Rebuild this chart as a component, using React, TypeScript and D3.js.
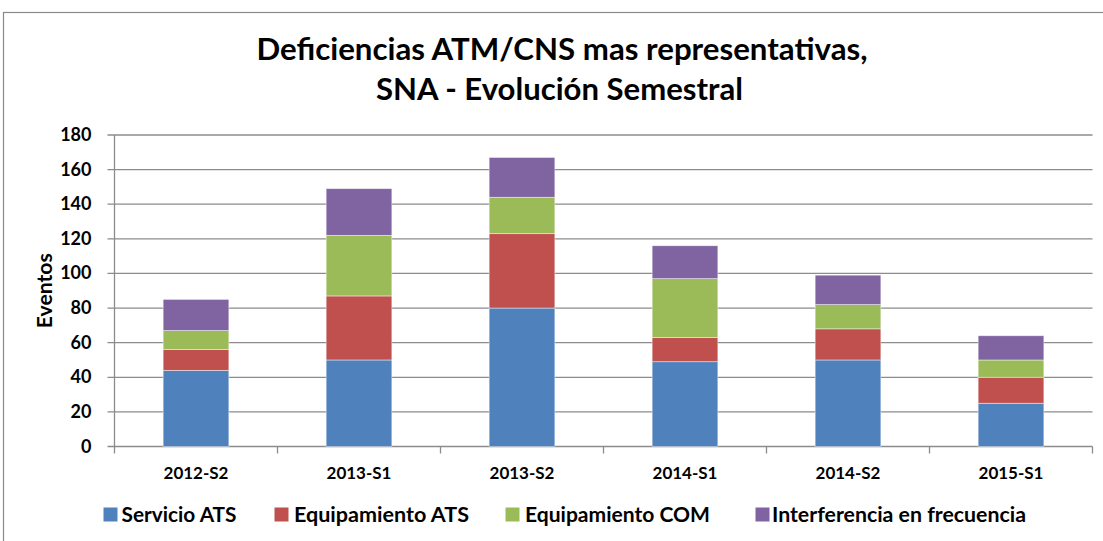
import React from "react";
import * as d3 from "d3";

const categories = ["2012-S2", "2013-S1", "2013-S2", "2014-S1", "2014-S2", "2015-S1"];
const servicioATS = [44, 50, 80, 49, 50, 25];
const equipamientoATS = [12, 37, 43, 14, 18, 15];
const equipamientoCOM = [11, 35, 21, 34, 14, 10];
const interferencia = [18, 27, 23, 19, 17, 14];
const seriesNames = ["Servicio ATS", "Equipamiento ATS", "Equipamiento COM", "Interferencia en frecuencia"];
const seriesColors = ["#4F81BD", "#C0504D", "#9BBB59", "#8064A2"];
const yTicks = [0, 20, 40, 60, 80, 100, 120, 140, 160, 180];
const titleLines = ["Deficiencias ATM/CNS mas representativas,", "SNA - Evolución Semestral"];
const yTitle = "Eventos";

const W = 1103;
const H = 541;
const plot = { left: 114.5, right: 1092.5, top: 135, bottom: 446.5 };
const FONT = "Lato, 'Open Sans', 'DejaVu Sans', sans-serif";
const GRID = "#8c8c8c";

// layout for text blocks (x start, baseline, width)
const titleLayout = [
  { x: 256.5, y: 59.5, w: 611 },
  { x: 376, y: 99.5, w: 367 },
];
const legendLayout = [
  { sx: 103.5, tx: 121.5, tw: 115 },
  { sx: 274.5, tx: 294, tw: 175 },
  { sx: 505.5, tx: 525, tw: 185 },
  { sx: 755.5, tx: 772, tw: 254 },
];

export default function App() {
  const rows = categories.map((c, i) => ({
    cat: c,
    s0: servicioATS[i],
    s1: equipamientoATS[i],
    s2: equipamientoCOM[i],
    s3: interferencia[i],
  }));
  const keys = ["s0", "s1", "s2", "s3"];
  const stacked = d3.stack<any>().keys(keys)(rows);

  const x = d3.scaleBand<string>().domain(categories).range([plot.left, plot.right]).padding(0);
  const y = d3.scaleLinear().domain([0, 180]).range([plot.bottom, plot.top]);
  const barW = x.bandwidth() * 0.403;

  const boundaries = d3.range(categories.length + 1).map((i) => plot.left + i * x.step());

  return (
    <svg
      width={W}
      height={H}
      style={{ position: "absolute", left: 0, top: 0, background: "#fff" }}
      fontFamily={FONT}
    >
      <rect x={0} y={0} width={W} height={H} fill="#fff" />
      {/* chart frame */}
      <rect x={3.5} y={12.5} width={W + 20} height={H + 20} fill="none" stroke="#8a8a8a" strokeWidth={1.2} />

      {/* title */}
      {titleLines.map((t, i) => (
        <text
          key={t}
          x={titleLayout[i].x}
          y={titleLayout[i].y}
          fontSize={30.5}
          fontWeight="bold"
          fill="#000"
          textLength={titleLayout[i].w}
          lengthAdjust="spacingAndGlyphs"
        >
          {t}
        </text>
      ))}

      {/* gridlines + y ticks */}
      {yTicks.map((t) => (
        <g key={t}>
          <line x1={plot.left - 7} x2={plot.right} y1={y(t)} y2={y(t)} stroke={GRID} strokeWidth={1.3} />
          <text
            x={91.5}
            y={y(t) + 6}
            textAnchor="end"
            fontSize={18}
            fontWeight="bold"
            fill="#000"
          >
            {t}
          </text>
        </g>
      ))}

      {/* y axis line */}
      <line x1={plot.left} x2={plot.left} y1={plot.top} y2={plot.bottom} stroke={GRID} strokeWidth={1.3} />

      {/* x axis ticks */}
      {boundaries.map((bx, i) => (
        <line key={i} x1={bx} x2={bx} y1={plot.bottom} y2={plot.bottom + 7} stroke={GRID} strokeWidth={1.3} />
      ))}

      {/* bars */}
      {stacked.map((layer, si) => (
        <g key={si} fill={seriesColors[si]}>
          {layer.map((d, i) => (
            <rect
              key={i}
              x={(x(categories[i]) as number) + (x.bandwidth() - barW) / 2}
              y={y(d[1])}
              width={barW}
              height={y(d[0]) - y(d[1])}
              stroke="#ffffff"
              strokeOpacity={0.55}
              strokeWidth={0.8}
            />
          ))}
        </g>
      ))}

      {/* x labels */}
      {categories.map((c) => (
        <text
          key={c}
          x={(x(c) as number) + x.bandwidth() / 2}
          y={478.5}
          textAnchor="middle"
          fontSize={17}
          fontWeight="bold"
          fill="#000"
        >
          {c}
        </text>
      ))}

      {/* y title */}
      <text
        transform={`translate(51.5, ${(plot.top + plot.bottom) / 2}) rotate(-90)`}
        textAnchor="middle"
        fontSize={21.5}
        fontWeight="bold"
        fill="#000"
        textLength={75}
        lengthAdjust="spacingAndGlyphs"
      >
        {yTitle}
      </text>

      {/* legend */}
      {seriesNames.map((n, i) => (
        <g key={n}>
          <rect x={legendLayout[i].sx} y={507.5} width={14} height={14} fill={seriesColors[i]} />
          <text
            x={legendLayout[i].tx}
            y={522}
            fontSize={21.5}
            fontWeight="bold"
            fill="#000"
            textLength={legendLayout[i].tw}
            lengthAdjust="spacingAndGlyphs"
          >
            {n}
          </text>
        </g>
      ))}
    </svg>
  );
}
